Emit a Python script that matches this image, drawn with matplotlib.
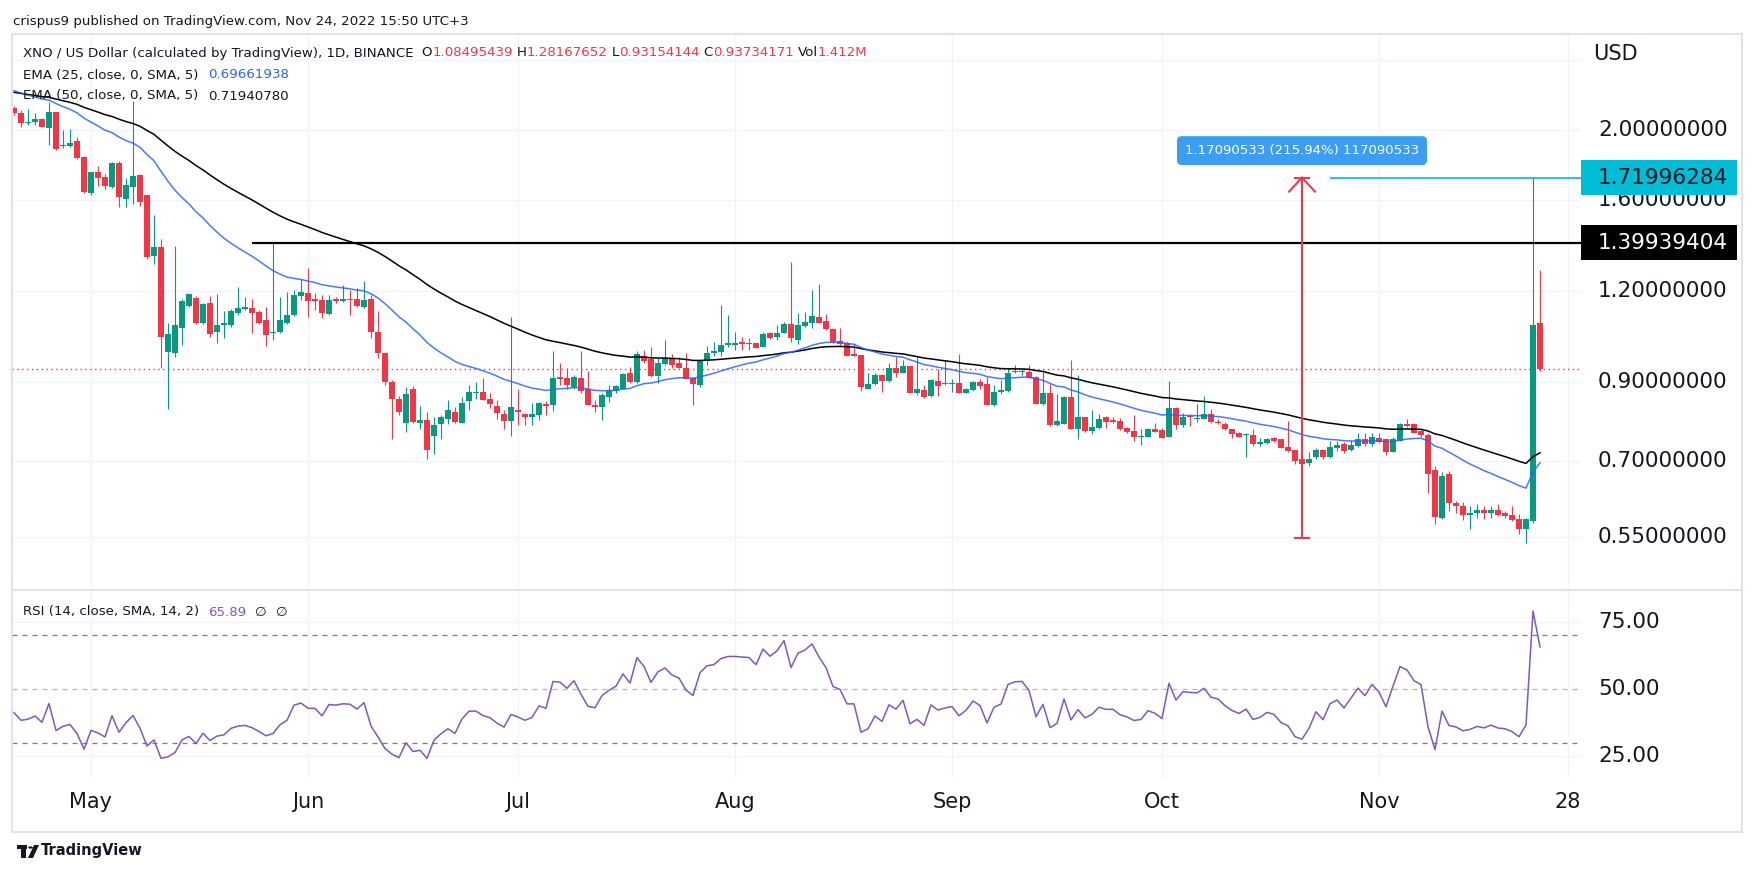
import numpy as np
import pandas as pd
import matplotlib
matplotlib.use("Agg")
import matplotlib.pyplot as plt
from matplotlib import transforms
from matplotlib.patches import Rectangle, Circle, Polygon
from matplotlib.lines import Line2D

plt.rcParams['font.family'] = ['DejaVu Sans']

W, H = 1756, 876

# daily candles, XNO/USD (Binance)
dates = pd.date_range('2022-04-20', '2022-11-24', freq='D')
opens = [
    2.142, 2.113, 2.043, 2.053, 2.069, 2.015, 2.118, 1.900, 1.904, 1.932,
    1.836, 1.636, 1.749, 1.725, 1.671, 1.803, 1.608, 1.671, 1.734, 1.627,
    1.343, 1.379, 0.990, 0.987, 1.066, 1.146, 1.175, 1.085, 1.157, 1.055,
    1.077, 1.077, 1.121, 1.133, 1.139, 1.124, 1.094, 1.050, 1.055, 1.085,
    1.114, 1.182, 1.194, 1.169, 1.167, 1.116, 1.171, 1.164, 1.171, 1.170,
    1.142, 1.169, 1.055, 0.987, 0.900, 0.851, 0.790, 0.881, 0.790, 0.797,
    0.759, 0.787, 0.800, 0.818, 0.790, 0.848, 0.868, 0.870, 0.851, 0.833,
    0.813, 0.795, 0.820, 0.813, 0.806, 0.810, 0.839, 0.837, 0.913, 0.910,
    0.886, 0.910, 0.879, 0.836, 0.832, 0.858, 0.874, 0.881, 0.924, 0.900,
    0.977, 0.967, 0.918, 0.952, 0.969, 0.955, 0.941, 0.911, 0.891, 0.961,
    0.987, 0.989, 1.012, 1.012, 1.020, 1.017, 1.017, 1.006, 1.051, 1.038,
    1.052, 1.081, 1.028, 1.074, 1.085, 1.104, 1.091, 1.064, 1.025, 1.019,
    0.980, 0.980, 0.881, 0.894, 0.920, 0.902, 0.939, 0.926, 0.946, 0.868,
    0.877, 0.860, 0.902, 0.896, 0.894, 0.896, 0.869, 0.877, 0.900, 0.894,
    0.835, 0.872, 0.875, 0.928, 0.928, 0.928, 0.915, 0.839, 0.868, 0.785,
    0.787, 0.858, 0.775, 0.804, 0.771, 0.778, 0.804, 0.797, 0.795, 0.778,
    0.769, 0.756, 0.756, 0.775, 0.772, 0.756, 0.829, 0.785, 0.806, 0.800,
    0.800, 0.813, 0.793, 0.787, 0.775, 0.764, 0.760, 0.760, 0.740, 0.742,
    0.754, 0.750, 0.731, 0.725, 0.705, 0.696, 0.708, 0.725, 0.710, 0.730,
    0.739, 0.725, 0.735, 0.751, 0.738, 0.754, 0.750, 0.721, 0.746, 0.787,
    0.787, 0.770, 0.760, 0.680, 0.584, 0.671, 0.613, 0.606, 0.590, 0.593,
    0.599, 0.594, 0.599, 0.593, 0.590, 0.582, 0.565, 0.579, 1.08495439,
]
highs = [
    2.160, 2.130, 2.135, 2.110, 2.075, 2.188, 2.120, 2.000, 2.004, 1.954,
    1.840, 1.750, 1.784, 1.740, 1.809, 1.813, 1.716, 2.195, 1.740, 1.630,
    1.528, 1.416, 1.085, 1.386, 1.171, 1.190, 1.180, 1.155, 1.182, 1.188,
    1.125, 1.133, 1.214, 1.176, 1.169, 1.130, 1.142, 1.400, 1.176, 1.195,
    1.204, 1.248, 1.293, 1.192, 1.185, 1.185, 1.178, 1.222, 1.206, 1.211,
    1.239, 1.185, 1.125, 0.990, 0.905, 0.860, 0.884, 0.888, 0.833, 0.818,
    0.804, 0.810, 0.849, 0.832, 0.857, 0.891, 0.900, 0.910, 0.868, 0.849,
    0.823, 1.104, 0.879, 0.816, 0.842, 0.845, 0.848, 0.992, 0.954, 0.939,
    0.920, 0.992, 0.931, 0.849, 0.868, 0.891, 0.891, 0.926, 0.942, 0.992,
    0.997, 1.006, 0.969, 1.028, 0.983, 0.975, 0.985, 0.915, 0.964, 1.008,
    1.022, 1.148, 1.112, 1.055, 1.038, 1.035, 1.018, 1.055, 1.055, 1.077,
    1.089, 1.317, 1.118, 1.124, 1.204, 1.227, 1.116, 1.066, 1.066, 1.022,
    1.019, 0.981, 0.924, 0.926, 0.922, 0.954, 0.975, 0.964, 0.947, 0.977,
    0.891, 0.907, 0.936, 0.964, 0.907, 0.983, 0.883, 0.902, 0.907, 0.915,
    0.891, 0.905, 0.939, 0.949, 0.936, 0.949, 0.917, 0.932, 0.894, 0.865,
    0.861, 0.964, 0.921, 0.806, 0.823, 0.812, 0.808, 0.806, 0.803, 0.781,
    0.810, 0.774, 0.778, 0.789, 0.778, 0.902, 0.832, 0.814, 0.813, 0.839,
    0.860, 0.825, 0.801, 0.793, 0.776, 0.768, 0.766, 0.776, 0.754, 0.752,
    0.756, 0.750, 0.795, 0.725, 0.706, 0.720, 0.729, 0.726, 0.746, 0.746,
    0.744, 0.748, 0.764, 0.764, 0.766, 0.764, 0.751, 0.756, 0.789, 0.800,
    0.789, 0.776, 0.764, 0.688, 0.676, 0.678, 0.617, 0.615, 0.607, 0.611,
    0.606, 0.607, 0.611, 0.598, 0.607, 0.591, 0.584, 1.71996284, 1.28167652,
]
lows = [
    2.100, 2.020, 2.035, 2.035, 2.018, 1.907, 1.877, 1.891, 1.896, 1.824,
    1.640, 1.630, 1.677, 1.660, 1.666, 1.569, 1.569, 1.584, 1.574, 1.330,
    1.309, 0.940, 0.825, 0.975, 1.011, 1.140, 1.080, 1.080, 1.038, 1.018,
    1.033, 1.072, 1.111, 1.129, 1.050, 1.080, 1.008, 1.026, 1.051, 1.081,
    1.109, 1.167, 1.105, 1.129, 1.101, 1.114, 1.155, 1.159, 1.114, 1.142,
    1.136, 1.035, 0.970, 0.890, 0.750, 0.810, 0.768, 0.790, 0.776, 0.705,
    0.715, 0.751, 0.787, 0.790, 0.789, 0.823, 0.851, 0.849, 0.827, 0.801,
    0.774, 0.759, 0.785, 0.785, 0.785, 0.797, 0.810, 0.821, 0.891, 0.879,
    0.879, 0.869, 0.835, 0.819, 0.797, 0.845, 0.869, 0.879, 0.897, 0.897,
    0.954, 0.915, 0.897, 0.949, 0.939, 0.939, 0.907, 0.837, 0.884, 0.949,
    0.977, 0.977, 1.006, 0.995, 0.995, 0.995, 1.002, 1.004, 1.030, 1.028,
    1.049, 1.022, 1.015, 1.072, 1.066, 1.083, 1.061, 1.019, 1.011, 0.977,
    0.977, 0.875, 0.879, 0.891, 0.872, 0.900, 0.915, 0.924, 0.868, 0.863,
    0.856, 0.858, 0.860, 0.891, 0.872, 0.868, 0.868, 0.875, 0.879, 0.836,
    0.833, 0.866, 0.872, 0.924, 0.920, 0.910, 0.839, 0.836, 0.783, 0.783,
    0.786, 0.775, 0.751, 0.768, 0.763, 0.776, 0.778, 0.789, 0.772, 0.766,
    0.746, 0.736, 0.755, 0.767, 0.754, 0.755, 0.776, 0.781, 0.782, 0.793,
    0.799, 0.790, 0.787, 0.772, 0.754, 0.756, 0.708, 0.734, 0.735, 0.740,
    0.744, 0.729, 0.721, 0.693, 0.691, 0.690, 0.704, 0.705, 0.706, 0.723,
    0.719, 0.723, 0.733, 0.735, 0.735, 0.742, 0.713, 0.720, 0.745, 0.780,
    0.764, 0.755, 0.633, 0.574, 0.582, 0.598, 0.594, 0.580, 0.565, 0.584,
    0.582, 0.585, 0.588, 0.584, 0.579, 0.556, 0.539, 0.576, 0.93154144,
]
closes = [
    2.113, 2.047, 2.053, 2.069, 2.021, 2.118, 1.883, 1.907, 1.917, 1.830,
    1.643, 1.749, 1.720, 1.675, 1.800, 1.619, 1.681, 1.729, 1.590, 1.338,
    1.379, 1.038, 1.048, 1.077, 1.164, 1.188, 1.083, 1.152, 1.048, 1.077,
    1.085, 1.125, 1.138, 1.142, 1.121, 1.085, 1.045, 1.055, 1.094, 1.114,
    1.185, 1.195, 1.164, 1.164, 1.121, 1.167, 1.164, 1.169, 1.167, 1.146,
    1.167, 1.055, 0.987, 0.900, 0.851, 0.819, 0.866, 0.793, 0.797, 0.725,
    0.784, 0.806, 0.823, 0.793, 0.842, 0.870, 0.870, 0.849, 0.839, 0.814,
    0.795, 0.830, 0.819, 0.806, 0.813, 0.842, 0.834, 0.910, 0.908, 0.891,
    0.913, 0.875, 0.837, 0.832, 0.863, 0.877, 0.888, 0.922, 0.900, 0.983,
    0.961, 0.918, 0.954, 0.967, 0.949, 0.941, 0.909, 0.894, 0.961, 0.985,
    0.989, 1.010, 1.017, 1.017, 1.016, 1.015, 1.003, 1.046, 1.034, 1.049,
    1.081, 1.033, 1.077, 1.088, 1.109, 1.085, 1.064, 1.022, 1.015, 0.978,
    0.978, 0.886, 0.893, 0.920, 0.902, 0.939, 0.926, 0.946, 0.869, 0.879,
    0.857, 0.905, 0.888, 0.893, 0.896, 0.869, 0.880, 0.900, 0.888, 0.837,
    0.870, 0.877, 0.924, 0.931, 0.932, 0.912, 0.840, 0.868, 0.785, 0.795,
    0.858, 0.776, 0.806, 0.771, 0.781, 0.801, 0.793, 0.793, 0.775, 0.768,
    0.756, 0.758, 0.775, 0.768, 0.754, 0.829, 0.785, 0.806, 0.804, 0.803,
    0.813, 0.793, 0.789, 0.774, 0.763, 0.756, 0.763, 0.740, 0.743, 0.750,
    0.746, 0.730, 0.723, 0.699, 0.693, 0.705, 0.725, 0.710, 0.731, 0.736,
    0.723, 0.736, 0.750, 0.739, 0.755, 0.744, 0.721, 0.751, 0.787, 0.782,
    0.766, 0.760, 0.671, 0.587, 0.668, 0.612, 0.606, 0.590, 0.593, 0.599,
    0.594, 0.599, 0.590, 0.588, 0.580, 0.565, 0.582, 1.077, 0.93734171,
]

# indicator starting states read at the left edge of the chart
ema25_start = 2.266
ema50_start = 2.254
rsi_gain_start = 0.028
rsi_loss_start = 0.040

# drawings
level_black = 1.39939404
level_black_from = '2022-05-24'
level_cyan = 1.71996284
level_cyan_from = '2022-10-25'
range_date = '2022-10-21'
range_low = 0.54905751
range_text = '1.17090533 (215.94%) 117090533'

price_ticks = [2.5, 2.0, 1.6, 1.2, 0.9, 0.7, 0.55]
price_labels_shown = [2.0, 1.6, 1.2, 0.9, 0.7, 0.55]
rsi_ticks = [75, 50, 25]
month_dates = ['2022-05-01', '2022-06-01', '2022-07-01', '2022-08-01',
               '2022-09-01', '2022-10-01', '2022-11-01', '2022-11-28']
month_labels = ['May', 'Jun', 'Jul', 'Aug', 'Sep', 'Oct', 'Nov', '28']

GREEN = '#089981'
RED = '#f23645'
BLUE = '#2962ff'
PURPLE = '#7e57c2'
CYAN = '#00bcd4'
TXT = '#131722'
GRID = '#f0f3fa'
FRAME = '#e0e3eb'


def day(d):
    return (pd.Timestamp(d) - dates[0]).days


def ema(vals, n, start):
    a = 2.0 / (n + 1)
    out = [start]
    for v in vals[1:]:
        out.append(out[-1] + a * (v - out[-1]))
    return np.array(out)


def rsi(vals, n, g, l):
    out = [100 - 100 / (1 + g / l)]
    for prev, cur in zip(vals[:-1], vals[1:]):
        d = cur - prev
        g = (g * (n - 1) + max(d, 0)) / n
        l = (l * (n - 1) + max(-d, 0)) / n
        out.append(100 - 100 / (1 + g / l))
    return np.array(out)


def rect(x0, y0, x1, y1):
    return [x0 / W, 1 - y1 / H, (x1 - x0) / W, (y1 - y0) / H]


fig = plt.figure(figsize=(W / 100, H / 100), dpi=100)
ax = fig.add_axes(rect(12, 34, 1581, 590))
ax2 = fig.add_axes(rect(12, 590, 1581, 778))

x = np.arange(len(closes))
o, h, l, c = (np.array(v) for v in (opens, highs, lows, closes))
xlim = (-2 / 7, 1567 / 7)

# ---- price pane
ax.set_yscale('log')
ax.set_xlim(*xlim)
ax.set_ylim(0.465, 2.712)
ax.set_axis_off()

for v in price_ticks:
    ax.axhline(v, color=GRID, lw=0.9, zorder=0)
for d in month_dates:
    ax.axvline(day(d), color=GRID, lw=0.9, zorder=0)
    ax2.axvline(day(d), color=GRID, lw=0.9, zorder=0)

col = np.where(c >= o, GREEN, RED)
ax.vlines(x, l, h, colors=col, lw=0.8, zorder=3)
bottom = np.minimum(o, c)
height = np.maximum(np.abs(c - o), bottom * 0.004)
ax.bar(x, height, width=0.72, bottom=bottom, color=col, lw=0, zorder=4)

ax.plot(x, ema(closes, 50, ema50_start), color='black', lw=1.1, zorder=5)
ax.plot(x, ema(closes, 25, ema25_start), color=BLUE, lw=1.1, zorder=5, alpha=0.85)

ax.axhline(c[-1], color=RED, lw=1.0, ls=(0, (1, 2.5)), zorder=2)
ax.hlines(level_black, day(level_black_from), xlim[1], color='black', lw=1.6, zorder=6)
ax.hlines(level_cyan, day(level_cyan_from), xlim[1], color=CYAN, lw=1.2, zorder=6)

# price range tool
xr = day(range_date)
ax.plot([xr, xr], [range_low, level_cyan], color=RED, lw=1.5, zorder=7)
ax.plot([xr - 1, xr + 1], [range_low, range_low], color=RED, lw=1.5, zorder=7)
ax.plot([xr - 1, xr + 1], [level_cyan, level_cyan], color=RED, lw=1.5, zorder=7)
head = level_cyan * np.exp(-14 / 315.3)
ax.plot([xr - 1.85, xr, xr + 1.85], [head, level_cyan, head], color=RED, lw=1.5,
        zorder=7, solid_joinstyle='miter')
ax.text(xr, level_cyan * np.exp(27 / 315.3), range_text, color='white', fontsize=9.5,
        ha='center', va='center', zorder=8,
        bbox=dict(boxstyle='round,pad=0.6,rounding_size=0.35', fc='#3d9df0', ec='none'))

# ---- RSI pane
ax2.set_xlim(*xlim)
ax2.set_ylim(16.79, 86.94)
ax2.set_axis_off()
for v in rsi_ticks:
    if v != 50:
        ax2.axhline(v, color=GRID, lw=0.9, zorder=0)
ax2.axhline(70, color='#787b86', lw=0.9, ls=(0, (4, 4)), zorder=1)
ax2.axhline(30, color='#787b86', lw=0.9, ls=(0, (4, 4)), zorder=1)
ax2.axhline(50, color='#b2b5be', lw=0.9, ls=(0, (4, 4)), zorder=1)
ax2.plot(x, rsi(closes, 14, rsi_gain_start, rsi_loss_start), color=PURPLE, lw=1.1, zorder=3)

# ---- frame and separators
fig.add_artist(Rectangle((12 / W, 1 - 832 / H), 1730 / W, 798 / H, transform=fig.transFigure,
                         fill=False, ec=FRAME, lw=1.5))
fig.add_artist(Line2D([12 / W, 1742 / W], [1 - 590 / H] * 2, color=FRAME, lw=1.5))

# ---- axis labels
ptrans = transforms.blended_transform_factory(fig.transFigure, ax.transData)
rtrans = transforms.blended_transform_factory(fig.transFigure, ax2.transData)
dtrans = transforms.blended_transform_factory(ax.transData, fig.transFigure)
for v in price_labels_shown:
    ax.text(1598 / W, v, '%.8f' % v, transform=ptrans, fontsize=15.5, color=TXT,
            va='center', ha='left', clip_on=False)
for v in rsi_ticks:
    ax2.text(1598 / W, v, '%.2f' % v, transform=rtrans, fontsize=15.5, color=TXT,
             va='center', ha='left', clip_on=False)
for d, s in zip(month_dates, month_labels):
    ax.text(day(d), 1 - 802 / H, s, transform=dtrans, fontsize=15, color=TXT,
            ha='center', va='center', clip_on=False)
fig.text(1593 / W, 1 - 54 / H, 'USD', fontsize=15, color=TXT, va='center', ha='left')


def axis_box(val, fc, tc):
    yd = ax.transData.transform((0, val))[1]
    fig.add_artist(Rectangle((1581 / W, (yd - 17.5) / H), 156 / W, 35 / H,
                             transform=fig.transFigure, fc=fc, ec='none', zorder=10))
    fig.text(1598 / W, yd / H, '%.8f' % val, fontsize=15.5, color=tc, va='center',
             ha='left', zorder=11)


axis_box(level_cyan, CYAN, TXT)
axis_box(level_black, 'black', 'white')

# ---- legend texts
renderer = fig.canvas.get_renderer()


def pieces(x0, y0, parts, size=9.6):
    xx = x0
    for s, colr, gap in parts:
        t = fig.text(xx / W, 1 - y0 / H, s, color=colr, fontsize=size, va='center', ha='left')
        xx += t.get_window_extent(renderer=renderer).width + gap


fig.text(13 / W, 1 - 21 / H, 'crispus9 published on TradingView.com, Nov 24, 2022 15:50 UTC+3',
         fontsize=9.6, color=TXT, va='center', ha='left')
pieces(23, 53, [('XNO / US Dollar (calculated by TradingView), 1D, BINANCE', TXT, 8),
                ('O', TXT, 0), ('%.8f' % opens[-1], RED, 4),
                ('H', TXT, 0), ('%.8f' % highs[-1], RED, 4),
                ('L', TXT, 0), ('%.8f' % lows[-1], RED, 4),
                ('C', TXT, 0), ('%.8f' % closes[-1], RED, 4),
                ('Vol', TXT, 0), ('1.412M', RED, 0)])
pieces(23, 75, [('EMA (25, close, 0, SMA, 5)', TXT, 10), ('0.69661938', BLUE, 0)])
pieces(23, 96, [('EMA (50, close, 0, SMA, 5)', TXT, 10), ('0.71940780', TXT, 0)])
pieces(23, 612, [('RSI (14, close, SMA, 14, 2)', TXT, 9), ('65.89', PURPLE, 9),
                 ('\u2205', TXT, 9), ('\u2205', TXT, 0)])

# ---- TradingView mark, bottom left
fig.add_artist(Rectangle((17 / W, 1 - 849 / H), 10 / W, 4 / H, transform=fig.transFigure,
                         fc=TXT, ec='none'))
fig.add_artist(Rectangle((21 / W, 1 - 858 / H), 5 / W, 13 / H, transform=fig.transFigure,
                         fc=TXT, ec='none'))
fig.add_artist(Circle((30.5 / W, 1 - 847.5 / H), 2.3 / W, transform=fig.transFigure,
                      fc=TXT, ec='none'))
fig.add_artist(Polygon([(34 / W, 1 - 845 / H), (39 / W, 1 - 845 / H), (33 / W, 1 - 858 / H),
                        (28 / W, 1 - 858 / H)], transform=fig.transFigure, fc=TXT, ec='none'))
fig.text(41 / W, 1 - 851 / H, 'TradingView', fontsize=10.5, fontweight='bold', color=TXT,
         va='center', ha='left')

fig.savefig('out.png', dpi=100, facecolor='white')
